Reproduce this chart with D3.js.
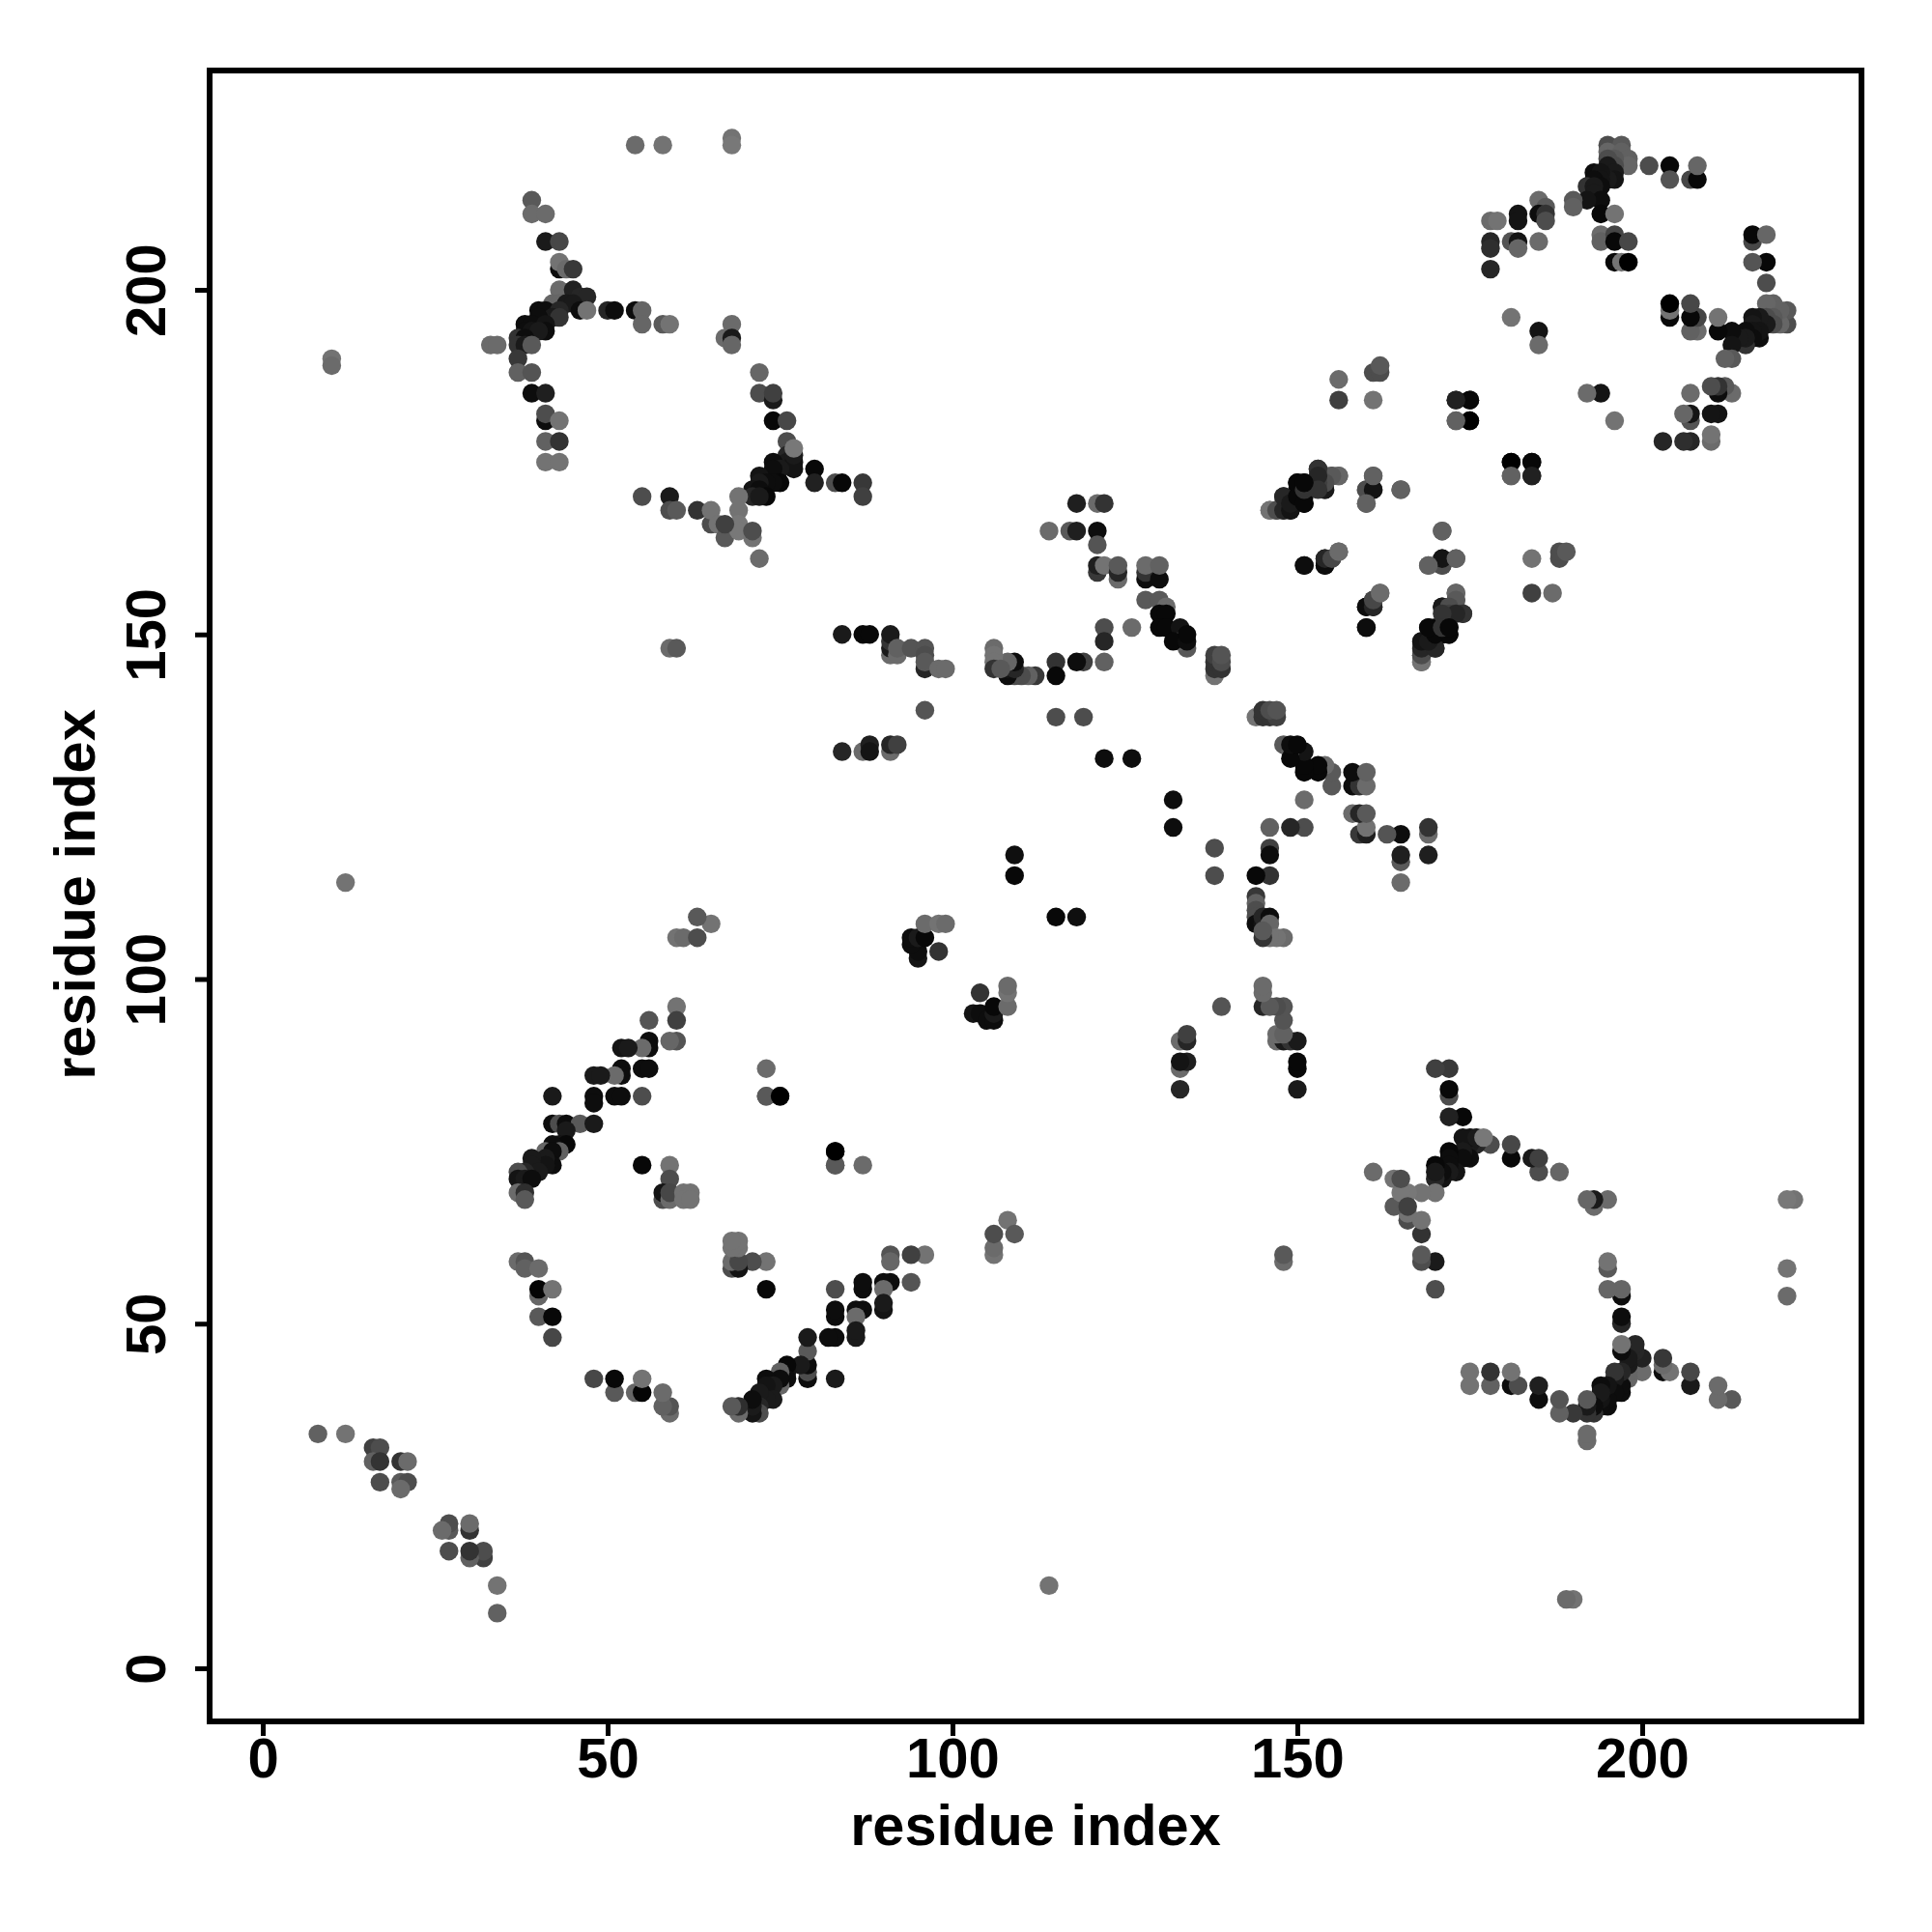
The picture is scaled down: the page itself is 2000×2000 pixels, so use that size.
<!DOCTYPE html>
<html><head><meta charset="utf-8">
<script src="https://cdn.jsdelivr.net/npm/d3@7"></script>
<style>html,body{margin:0;padding:0;background:#fff}svg{display:block}</style>
</head><body><svg id="c" width="2000" height="2000"></svg>
<script>
// each contact: [residue i, residue j, grey level]; the map is symmetric, i < j listed
const tickValues = [0,50,100,150,200];
const axisTitle = "residue index";
const nearDiagonalStart = [[8,34,.38],[12,34,.45],[16,32,.25],[17,32,.3],[16,30,.38],[17,30,.2],[20,30,.2],[21,30,.42],[17,27,.3],[20,27,.35],[21,27,.3],[20,26,.42],[10,190,.45],[10,189,.42],[12,114,.45]];
const starTopLeft = [[54,221,.42],[58,221,.45],[68,222,.45],[68,221,.47],[39,213,.35],[39,211,.42],[41,211,.42],[41,207,.1],[43,207,.28],[43,203,.05],[43,204,.45],[44,203,.42],[45,203,.22],[43,200,.42],[45,200,.13],[46,199,.15],[47,199,.15],[42,198,.4],[43,198,.4],[44,198,.1],[45,198,.1],[46,197,.05],[47,197,.45],[50,197,.15],[51,197,.05],[54,197,.05],[55,197,.4],[55,195,.4],[58,195,.35],[59,195,.45],[68,195,.42],[67,193,.42],[68,193,.1],[68,192,.4],[40,197,.05],[41,197,.05],[43,197,.15],[42,196,.1],[43,196,.2],[40,196,.05],[38,195,.05],[39,195,.05],[41,195,.08],[38,194,.05],[39,194,.08],[41,194,.05],[40,194,.1],[37,193,.2],[38,193,.05],[37,192,.2],[38,192,.1],[39,192,.35],[33,192,.42],[34,192,.42],[37,190,.22],[37,188,.38],[39,188,.33],[39,185,.05],[41,185,.12],[41,181,.05],[41,182,.3],[43,181,.45],[41,178,.38],[43,178,.2],[41,175,.45],[43,175,.45]];
const starUpperMiddle = [[72,188,.4],[72,185,.3],[74,184,.1],[74,185,.25],[74,181,.03],[76,181,.28],[76,178,.3],[76,176,.15],[76,175,.1],[77,175,.08],[77,174,.08],[77,176,.1],[74,175,.05],[75,174,.1],[74,174,.05],[75,172,.03],[74,172,.05],[72,173,.08],[73,172,.05],[72,172,.1],[71,171,.08],[72,171,.05],[73,170,.03],[71,170,.15],[72,170,.1],[77,177,.47],[80,174,.03],[80,172,.13],[83,172,.3],[84,172,.03],[87,172,.22],[87,170,.25],[55,170,.3],[59,170,.1],[59,168,.3],[60,168,.35],[63,168,.2],[65,166,.3],[65,168,.45],[66,166,.45],[67,164,.35],[69,170,.45],[69,168,.45],[69,166,.47],[69,165,.47],[67,166,.25],[71,164,.45],[71,165,.3],[72,161,.42]];
const centerBand = [[118,169,.12],[121,169,.42],[122,169,.2],[114,165,.42],[117,165,.35],[118,165,.12],[121,165,.05],[121,163,.33],[121,159,.22],[121,160,.12],[122,160,.45],[124,158,.42],[124,159,.15],[124,160,.35],[128,158,.05],[128,159,.2],[128,160,.42],[130,158,.05],[130,160,.38],[128,155,.35],[130,155,.35],[131,154,.42],[130,153,.03],[131,153,.03],[130,151,.03],[131,151,.03],[133,151,.08],[134,148,.35],[133,149,.4],[132,149,.03],[134,149,.05],[134,150,.03],[122,151,.3],[122,149,.15],[126,151,.42],[122,146,.38],[119,146,.25],[118,146,.05],[115,146,.2],[115,144,.03],[112,144,.22],[111,144,.38],[110,144,.3],[109,144,.3],[108,144,.05],[108,145,.08],[109,145,.15],[109,146,.05],[108,146,.4],[106,148,.42],[106,147,.45],[106,146,.45],[106,145,.2],[107,145,.35]];
const centerRow150 = [[84,150,.1],[87,150,.03],[88,150,.03],[91,147,.42],[91,148,.1],[91,149,.2],[91,150,.1],[92,147,.42],[92,148,.38],[94,148,.33],[96,148,.33],[96,147,.3],[96,145,.15],[96,146,.35],[98,145,.42],[99,145,.42],[96,139,.33],[115,138,.3],[119,138,.3],[84,133,.15],[87,133,.42],[88,134,.12],[88,133,.08],[91,133,.42],[91,134,.15],[92,134,.25],[122,132,.05],[126,132,.05],[138,144,.45],[138,145,.2],[138,146,.2],[138,147,.25],[139,145,.2],[139,146,.3],[139,147,.33]];
const islandsMiddle = [[109,115,.03],[109,118,.06],[95,103,.08],[95,104,.05],[94,105,.05],[94,106,.05],[95,106,.1],[96,106,.03],[98,104,.2],[96,108,.42],[98,108,.45],[99,108,.42],[59,148,.42],[60,148,.35],[60,106,.45],[61,106,.42],[63,106,.3],[65,108,.45],[63,109,.35]];
const starRightMiddle = [[146,168,.42],[147,168,.15],[148,168,.12],[149,168,.1],[148,169,.1],[149,169,.1],[148,170,.18],[150,170,.1],[151,169,.03],[151,170,.03],[150,171,.03],[150,172,.03],[151,172,.03],[153,172,.2],[154,172,.3],[154,171,.1],[153,174,.18],[154,173,.1],[155,173,.33],[156,173,.33],[156,184,.25],[156,187,.42],[161,184,.45],[161,188,.3],[162,188,.3],[162,189,.35],[173,184,.12],[175,184,.03],[173,181,.4],[175,181,.0],[161,173,.35],[160,171,.3],[161,171,.08],[165,171,.38],[160,169,.38],[151,160,.08],[154,160,.08],[154,161,.05],[155,161,.28],[156,162,.42],[160,154,.05],[161,154,.15],[161,155,.28],[162,156,.42],[160,151,.05],[171,165,.38],[171,160,.3],[171,161,.08],[173,161,.38],[169,160,.38],[173,156,.4],[173,155,.35],[171,154,.1],[172,154,.3],[174,153,.2],[172,153,.25],[173,153,.15],[171,153,.2],[168,146,.45],[168,147,.3],[168,148,.15],[170,148,.15],[168,149,.08],[169,149,.1],[170,150,.03],[172,150,.03],[169,151,.03],[171,151,.2],[172,151,.03]];
const ringTopRight = [[181,175,.0],[184,175,.03],[181,173,.38],[184,173,.13],[195,221,.3],[197,221,.35],[195,220,.4],[197,220,.38],[198,219,.38],[198,218,.4],[196,219,.35],[196,218,.3],[195,219,.3],[195,218,.1],[196,217,.1],[196,216,.08],[195,216,.1],[193,217,.05],[194,217,.08],[194,216,.08],[193,216,.05],[194,215,.05],[192,215,.2],[193,215,.1],[193,214,.1],[194,213,.05],[192,213,.08],[190,213,.35],[190,212,.38],[194,211,.03],[196,211,.45],[194,208,.42],[194,207,.38],[196,208,.27],[196,207,.03],[198,207,.28],[196,204,.03],[197,204,.45],[198,204,.0],[201,218,.3],[204,218,.03],[204,216,.33],[207,216,.28],[208,216,.03],[208,218,.4],[178,210,.42],[179,210,.45],[182,211,.08],[182,210,.08],[185,213,.42],[186,212,.35],[185,211,.05],[186,211,.2],[186,210,.3],[178,207,.15],[178,206,.18],[178,203,.15],[181,207,.33],[182,207,.08],[182,206,.4],[185,207,.42],[181,196,.45],[185,194,.08],[185,192,.42]];
const bandLowerLeft = [[60,96,.45],[60,94,.25],[56,94,.33],[60,91,.33],[59,91,.4],[56,91,.05],[56,90,.05],[55,90,.42],[52,90,.08],[53,90,.1],[52,87,.05],[52,86,.05],[51,86,.42],[55,87,.05],[56,87,.05],[48,86,.1],[49,86,.1],[48,83,.05],[48,82,.05],[51,83,.05],[52,83,.05],[55,83,.3],[42,83,.1],[42,79,.05],[43,79,.3],[44,79,.05],[46,79,.35],[48,79,.1],[44,78,.1],[43,76,.08],[44,76,.03],[42,76,.05],[43,75,.38],[41,75,.4],[42,75,.05],[42,73,.05],[41,74,.1],[41,73,.08],[39,74,.1],[39,73,.1],[40,72,.1],[38,72,.15],[37,72,.3],[37,71,.08],[38,71,.1],[39,71,.05],[37,69,.42],[38,69,.18],[38,68,.35]];
const islandsLowerLeft = [[55,73,.03],[59,73,.45],[59,71,.3],[58,68,.3],[58,69,.08],[59,68,.42],[59,69,.28],[61,69,.45],[62,69,.45],[61,68,.45],[62,68,.45],[73,87,.42],[73,83,.33],[75,83,.0],[83,73,.35],[83,75,.0],[37,59,.42],[38,59,.33],[38,58,.38],[40,58,.42],[40,54,.4],[40,55,.02],[42,55,.45],[40,51,.35],[42,51,.03],[42,48,.28]];
const contactGroups = [nearDiagonalStart, starTopLeft, starUpperMiddle, centerBand, centerRow150, islandsMiddle, starRightMiddle, ringTopRight, bandLowerLeft, islandsLowerLeft];

const svg = d3.select("#c");
const F = {l:217, r:1927, t:73, b:1782};
const x = d3.scaleLinear().domain([0,200]).range([272,1700]);
const y = d3.scaleLinear().domain([0,200]).range([1727,300]);
const font = "'Liberation Sans', Arial, sans-serif";

const contacts = contactGroups.flat();
const points = contacts.flatMap(([i,j,g]) => [[i,j,g],[j,i,g]]);
const grey = g => d3.rgb(g*255,g*255,g*255).formatHex();
svg.append("g").selectAll("circle").data(points).join("circle")
  .attr("cx",d=>x(d[0])).attr("cy",d=>y(d[1])).attr("r",9.7).attr("fill",d=>grey(d[2]));

svg.append("rect").attr("x",F.l).attr("y",F.t).attr("width",F.r-F.l).attr("height",F.b-F.t)
  .attr("fill","none").attr("stroke","#000").attr("stroke-width",6);

const gx = svg.append("g").attr("transform",`translate(0,${F.b})`)
  .call(d3.axisBottom(x).tickValues(tickValues).tickSize(15).tickPadding(0).tickFormat(d3.format("d")));
gx.select(".domain").remove();
gx.selectAll("line").attr("stroke","#000").attr("stroke-width",5);
gx.selectAll("text").attr("font-family",font).attr("font-weight","bold").attr("font-size",58).attr("fill","#000").attr("dy",null).attr("y",58);

const gy = svg.append("g").attr("transform",`translate(${F.l},0)`)
  .call(d3.axisLeft(y).tickValues(tickValues).tickSize(15).tickPadding(0).tickFormat(d3.format("d")));
gy.select(".domain").remove();
gy.selectAll("line").attr("stroke","#000").attr("stroke-width",5);
gy.selectAll("text").attr("font-family",font).attr("font-weight","bold").attr("font-size",58).attr("fill","#000")
  .attr("dy",null).attr("x",0).attr("y",0).attr("text-anchor","middle").attr("transform","translate(-46,0) rotate(-90)");

svg.append("text").attr("x",1072).attr("y",1910).attr("text-anchor","middle").attr("font-family",font).attr("font-weight","bold").attr("font-size",59.5).text(axisTitle);
svg.append("text").attr("transform","translate(98,926) rotate(-90)").attr("text-anchor","middle").attr("font-family",font).attr("font-weight","bold").attr("font-size",59.5).text(axisTitle);
</script></body></html>
